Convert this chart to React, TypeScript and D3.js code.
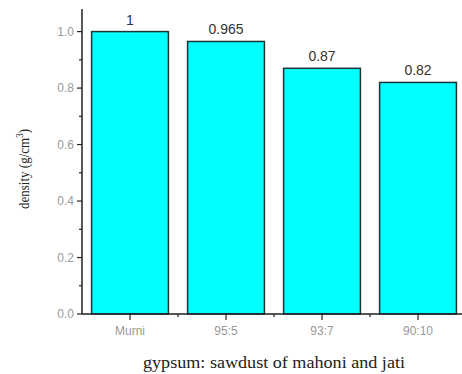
import React from "react";
import * as d3 from "d3";

const categories = ["Murni", "95:5", "93:7", "90:10"];
const values = [1, 0.965, 0.87, 0.82];
const valueLabels = ["1", "0.965", "0.87", "0.82"];
const yTicks = [0, 0.2, 0.4, 0.6, 0.8, 1.0];
const yMinorTicks = [0.1, 0.3, 0.5, 0.7, 0.9];

const W = 462;
const H = 374;
const left = 82;
const bottom = 314;
const top = 9;

export default function App() {
  const x = d3.scaleBand<string>().domain(categories).range([left, 466]).paddingInner(0.2).paddingOuter(0.1);
  const y = d3.scaleLinear().domain([0, 1.08]).range([bottom, top]);
  const bw = x.bandwidth();
  const step = x.step();
  const boundaries = categories.slice(1).map((c) => (x(c) as number) - (step * 0.2) / 2);
  const sans = "Liberation Sans, Arial, sans-serif";
  const serif = "Liberation Serif, Times New Roman, serif";
  return (
    <svg width={W} height={H} style={{ position: "absolute", left: 0, top: 0, background: "#fff" }}>
      {categories.map((c, i) => (
        <g key={c}>
          <rect
            x={x(c) as number}
            y={y(values[i])}
            width={bw}
            height={bottom - y(values[i])}
            fill="#00ffff"
            stroke="#1c3434"
            strokeWidth={1.5}
          />
          <text
            x={(x(c) as number) + bw / 2}
            y={y(values[i]) - 7}
            textAnchor="middle"
            fontFamily={sans}
            fontSize={14}
            fill="#333"
          >
            {valueLabels[i]}
          </text>
          <line
            x1={(x(c) as number) + bw / 2}
            x2={(x(c) as number) + bw / 2}
            y1={bottom}
            y2={bottom + 6}
            stroke="#222"
            strokeWidth={1.2}
          />
          <text
            x={(x(c) as number) + bw / 2}
            y={bottom + 21}
            textAnchor="middle"
            fontFamily={sans}
            fontSize={12}
            fill="#999"
          >
            {c}
          </text>
        </g>
      ))}
      {boundaries.map((b, i) => (
        <line key={i} x1={b} x2={b} y1={bottom} y2={bottom + 3} stroke="#222" strokeWidth={1.2} />
      ))}
      <line x1={left} x2={W} y1={bottom} y2={bottom} stroke="#222" strokeWidth={1.5} />
      <line x1={left} x2={left} y1={top} y2={bottom} stroke="#222" strokeWidth={1.5} />
      {yTicks.map((t) => (
        <g key={t}>
          <line x1={left - 5} x2={left} y1={y(t)} y2={y(t)} stroke="#222" strokeWidth={1.2} />
          <text x={left - 8} y={y(t) + 4} textAnchor="end" fontFamily={sans} fontSize={12} fill="#999">
            {t.toFixed(1)}
          </text>
        </g>
      ))}
      {yMinorTicks.map((t) => (
        <line key={t} x1={left - 3} x2={left} y1={y(t)} y2={y(t)} stroke="#222" strokeWidth={1.2} />
      ))}
      <text
        transform="translate(29, 169) scale(1.15, 1) rotate(-90)"
        textAnchor="middle"
        fontFamily={serif}
        fontSize={13}
        fill="#222"
      >
        density (g/cm<tspan dy={-5} fontSize={9}>3</tspan>
        <tspan dy={5}>)</tspan>
      </text>
      <text
        x={274}
        y={368}
        textAnchor="middle"
        fontFamily={serif}
        fontSize={16.5}
        fill="#222"
        textLength={262}
        lengthAdjust="spacingAndGlyphs"
      >
        gypsum: sawdust of mahoni and jati
      </text>
    </svg>
  );
}
